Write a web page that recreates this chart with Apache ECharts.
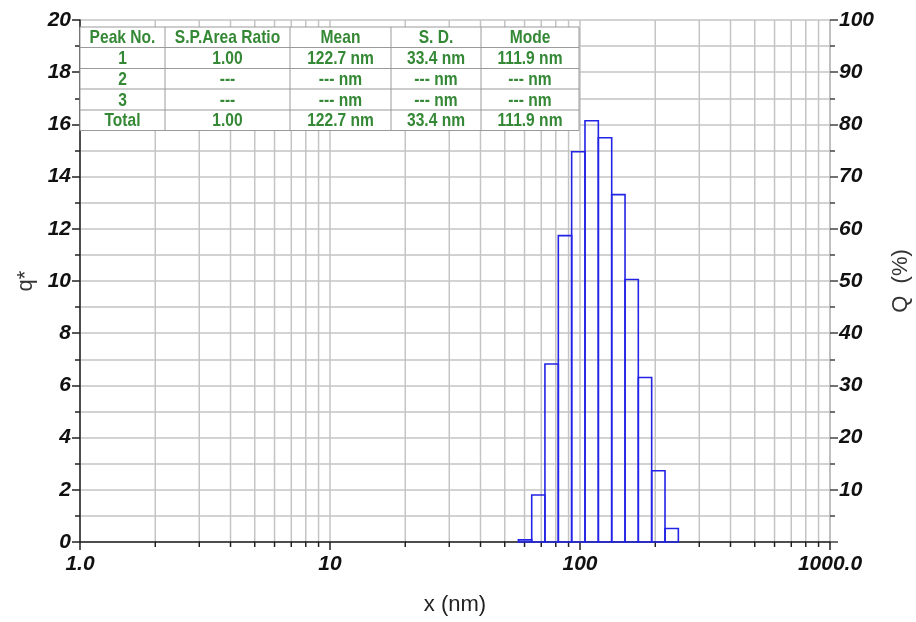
<!DOCTYPE html>
<html>
<head>
<meta charset="utf-8">
<script src="https://cdn.jsdelivr.net/npm/echarts@6/dist/echarts.min.js"></script>
<style>
  body { margin: 0; padding: 0; background: #fff; }
  #chart { width: 916px; height: 622px; }
</style>
</head>
<body>
<div id="chart"></div>
<script>
// bin edges (nm) and q* value of each bin (%)
const binEdges = [56.7, 64.1, 72.4, 81.9, 92.6, 104.7, 118.4, 133.9, 151.4, 171.1, 193.5, 218.8, 247.4];
const qValues = [0.08, 1.8, 6.82, 11.74, 14.95, 16.14, 15.49, 13.31, 10.06, 6.30, 2.73, 0.52];

// log minor grid positions
const minorX = [2, 3, 4, 5, 6, 7, 8, 9, 20, 30, 40, 50, 60, 70, 80, 90, 200, 300, 400, 500, 600, 700, 800, 900];

// result table
const tableHeader = ["Peak No.", "S.P.Area Ratio", "Mean", "S. D.", "Mode"];
const tableRows = [
  ["1", "1.00", "122.7 nm", "33.4 nm", "111.9 nm"],
  ["2", "---", "--- nm", "--- nm", "--- nm"],
  ["3", "---", "--- nm", "--- nm", "--- nm"],
  ["Total", "1.00", "122.7 nm", "33.4 nm", "111.9 nm"]
];

const bars = [];
for (let i = 0; i < qValues.length; i++) {
  bars.push([binEdges[i], binEdges[i + 1], qValues[i]]);
}

// table layout
const colX = [80, 165, 290, 391, 481, 579];
const rowY = [27, 47.5, 68.5, 89, 110, 130.5];
const green = "#358835";
const tableFont = 'bold 19px "Liberation Sans", Arial, sans-serif';

const tableEls = [];
tableEls.push({
  type: "rect",
  shape: { x: colX[0], y: rowY[0], width: colX[5] - colX[0], height: rowY[5] - rowY[0] },
  style: { fill: "#fff", stroke: "#9a9a9a", lineWidth: 1 },
  z: 100
});
for (let r = 1; r < rowY.length - 1; r++) {
  tableEls.push({
    type: "line",
    shape: { x1: colX[0], y1: rowY[r], x2: colX[5], y2: rowY[r] },
    style: { stroke: "#9a9a9a", lineWidth: 1 },
    z: 101
  });
}
for (let c = 1; c < colX.length - 1; c++) {
  tableEls.push({
    type: "line",
    shape: { x1: colX[c], y1: rowY[0], x2: colX[c], y2: rowY[5] },
    style: { stroke: "#9a9a9a", lineWidth: 1 },
    z: 101
  });
}
const allRows = [tableHeader].concat(tableRows);
allRows.forEach((row, r) => {
  row.forEach((txt, c) => {
    tableEls.push({
      type: "text",
      x: (colX[c] + colX[c + 1]) / 2,
      y: (rowY[r] + rowY[r + 1]) / 2 + 1,
      scaleX: 0.82,
      style: { text: txt, fill: green, font: tableFont, align: "center", verticalAlign: "middle" },
      z: 102
    });
  });
});

const labelStyle = {
  fontFamily: "Liberation Sans",
  fontStyle: "italic",
  fontWeight: "bold",
  fontSize: 21,
  color: "#111"
};

const chart = echarts.init(document.getElementById("chart"));
chart.setOption({
  animation: false,
  grid: { left: 80, right: 86, top: 20, bottom: 80, outerBoundsMode: "none", containLabel: false },
  xAxis: {
    type: "log",
    logBase: 10,
    min: 1,
    max: 1000,
    name: "x (nm)",
    nameLocation: "middle",
    nameGap: 52,
    nameTextStyle: { fontFamily: "Liberation Sans", fontSize: 22, color: "#222" },
    axisLine: { lineStyle: { color: "#222", width: 1.5 } },
    axisTick: { length: 8, lineStyle: { color: "#222", width: 1.5 } },
    axisLabel: Object.assign({
      margin: 12,
      formatter: v => (v === 1 ? "1.0" : v === 1000 ? "1000.0" : String(v))
    }, labelStyle),
    splitLine: { show: true, lineStyle: { color: "#c4c4c4", width: 1.5 } }
  },
  yAxis: [
    {
      type: "value",
      min: 0,
      max: 20,
      interval: 2,
      name: "q*",
      nameLocation: "middle",
      nameRotate: 90,
      nameGap: 35,
      nameTextStyle: { fontFamily: "Liberation Sans", fontSize: 22, color: "#333" },
      axisLine: { show: true, lineStyle: { color: "#222", width: 1.5 } },
      axisTick: { show: true, length: 8, lineStyle: { color: "#222", width: 1.5 } },
      minorTick: { show: true, splitNumber: 2, length: 5, lineStyle: { color: "#222", width: 1.5 } },
      axisLabel: Object.assign({ margin: 9 }, labelStyle),
      splitLine: { show: true, lineStyle: { color: "#c4c4c4", width: 1.5 } },
      minorSplitLine: { show: true, lineStyle: { color: "#c4c4c4", width: 1.5 } }
    },
    {
      type: "value",
      min: 0,
      max: 100,
      interval: 10,
      position: "right",
      name: "Q  (%)",
      nameLocation: "middle",
      nameRotate: 90,
      nameGap: 60,
      nameTextStyle: { fontFamily: "Liberation Sans", fontSize: 22, color: "#333" },
      axisLine: { show: true, lineStyle: { color: "#bbb", width: 1.5 } },
      axisTick: { show: true, length: 8, lineStyle: { color: "#444", width: 1.5 } },
      minorTick: { show: true, splitNumber: 2, length: 5, lineStyle: { color: "#444", width: 1.5 } },
      axisLabel: Object.assign({ margin: 9, formatter: v => (v === 0 ? "" : String(v)) }, labelStyle),
      splitLine: { show: false }
    }
  ],
  graphic: { elements: tableEls },
  series: [
    {
      name: "minor grid",
      type: "custom",
      silent: true,
      data: minorX,
      encode: { x: 0 },
      renderItem: (params, api) => {
        const v = api.value(0);
        const top = api.coord([v, 20]);
        const bot = api.coord([v, 0]);
        return {
          type: "group",
          children: [
            { type: "line", shape: { x1: bot[0], y1: top[1], x2: bot[0], y2: bot[1] },
              style: { stroke: "#c4c4c4", lineWidth: 1.5 } },
            { type: "line", shape: { x1: bot[0], y1: bot[1] - 1, x2: bot[0], y2: bot[1] + 5 },
              style: { stroke: "#222", lineWidth: 1.5 } }
          ]
        };
      },
      z: 1
    },
    {
      name: "q*",
      type: "custom",
      data: bars,
      encode: { x: [0, 1], y: 2 },
      renderItem: (params, api) => {
        const p0 = api.coord([api.value(0), 0]);
        const p1 = api.coord([api.value(1), api.value(2)]);
        return {
          type: "rect",
          shape: { x: p0[0], y: p1[1], width: p1[0] - p0[0], height: p0[1] - p1[1] },
          style: { fill: "none", stroke: "#2323e6", lineWidth: 1.6 }
        };
      },
      z: 5
    }
  ]
});
</script>
</body>
</html>
